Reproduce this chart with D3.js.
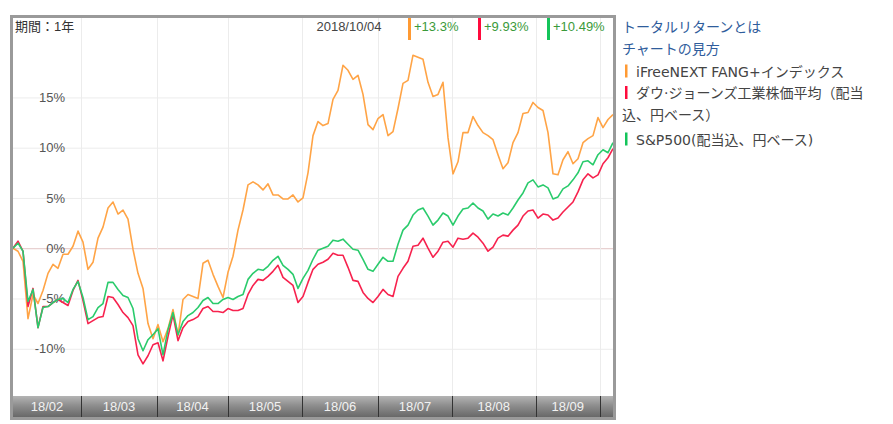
<!DOCTYPE html>
<html>
<head>
<meta charset="utf-8">
<script src="https://cdn.jsdelivr.net/npm/d3@7"></script>
<style>
    body { margin: 0; background: #fff; }
    svg { font-family: "Liberation Sans", "Noto Sans CJK JP", sans-serif; }
</style>
</head>
<body>
<svg id="chart" width="893" height="424"></svg>
<script>
// 累積リターン(%)、等間隔サンプル
const fang = [
    0, -0.3, -1.3, -7.0, -4.6, -5.5, -4.2, -2.5, -1.6, -2.0,
    -0.6, -0.6, 0.2, 1.7, 0.6, -2.1, -1.4, 1.0, 2.1, 4.0,
    4.6, 3.4, 3.8, 2.9, -0.1, -2.5, -4.0, -7.5, -9.0, -7.6,
    -9.3, -8.0, -6.1, -8.7, -5.1, -4.6, -4.8, -5.0, -1.5, -1.2,
    -2.6, -3.8, -4.9, -2.4, -0.8, 1.8, 3.8, 6.3, 6.6, 6.3,
    5.8, 6.4, 5.3, 5.3, 4.9, 4.9, 5.3, 4.6, 5.0, 7.5,
    11.2, 12.6, 12.2, 12.4, 14.8, 15.7, 18.2, 17.7, 16.8, 17.2,
    15.3, 12.3, 11.8, 12.9, 13.3, 11.2, 11.6, 13.9, 16.4, 16.7,
    19.2, 19.0, 18.8, 16.5, 15.1, 15.3, 16.5, 11.0, 7.4, 8.6,
    11.5, 11.5, 13.1, 12.2, 11.5, 11.2, 10.8, 9.3, 7.9, 8.5,
    10.5, 11.5, 13.4, 13.5, 14.5, 14.0, 13.7, 11.5, 7.4, 7.3,
    8.8, 9.6, 8.4, 8.9, 10.5, 10.9, 11.2, 13.0, 12.0, 12.8,
    13.3
]
const dow = [
    0, 0.7, -0.3, -5.8, -4.0, -7.9, -5.8, -5.8, -5.4, -5.1,
    -5.4, -5.7, -4.2, -3.2, -5.2, -7.5, -7.2, -6.9, -6.8, -4.8,
    -4.9, -5.6, -6.4, -6.9, -7.7, -10.6, -11.5, -10.7, -9.6, -9.4,
    -11.2, -8.8, -6.6, -9.2, -7.9, -7.3, -7.1, -6.8, -6.0, -5.8,
    -6.3, -6.3, -6.4, -6.0, -6.2, -6.2, -6.0, -4.6, -3.7, -3.1,
    -3.2, -2.8, -2.3, -1.7, -2.9, -3.3, -3.7, -5.4, -4.8, -3.4,
    -2.1, -1.6, -1.4, -1.1, -0.5, -0.7, -0.7, -1.9, -3.2, -3.3,
    -4.4, -5.0, -5.4, -4.8, -4.1, -4.6, -4.8, -2.8, -2.0, -1.3,
    0.2, 0.3, 1.0, 0.0, -0.9, -0.3, 0.6, 0.7, 0.1, 1.0,
    0.9, 1.0, 1.5, 1.1, 0.5, -0.3, 0.1, 1.0, 1.3, 1.2,
    1.8, 2.3, 3.2, 3.7, 3.8, 3.0, 3.4, 3.3, 2.8, 3.0,
    3.6, 4.1, 4.6, 5.6, 6.8, 7.4, 7.0, 7.3, 8.4, 9.0,
    9.9
]
const sp500 = [
    0, 0.5, -0.3, -5.3, -4.1, -7.9, -5.9, -5.8, -5.4, -5.1,
    -5.0, -5.4, -4.1, -3.3, -4.9, -7.1, -6.8, -5.9, -5.5, -3.4,
    -3.4, -4.1, -4.7, -4.9, -6.0, -9.0, -10.2, -9.1, -8.6, -8.0,
    -10.6, -8.1, -6.4, -8.6, -7.3, -6.7, -6.4, -5.9, -5.2, -4.9,
    -5.5, -5.5, -5.1, -4.9, -5.1, -4.8, -4.6, -3.1, -2.5, -2.1,
    -2.2, -1.8, -1.2, -0.8, -1.7, -2.1, -2.6, -4.0, -3.0, -2.2,
    -1.1, -0.2, 0.0, 0.2, 0.8, 0.7, 0.9, 0.4, -0.1, -0.2,
    -1.1, -2.1, -2.3, -1.6, -0.9, -1.3, -1.3, 0.4, 1.8, 2.3,
    3.3, 3.8, 4.0, 3.2, 2.3, 2.8, 3.5, 3.2, 2.3, 3.2,
    3.9, 4.0, 4.5, 4.0, 3.7, 2.9, 3.4, 3.2, 3.5, 3.3,
    4.0, 4.8, 5.5, 6.5, 6.8, 6.1, 6.3, 6.0, 4.9, 5.1,
    5.9, 6.2, 6.8, 7.5, 8.6, 8.7, 8.3, 9.3, 9.8, 9.5,
    10.5
]

const monthLabels = ['18/02', '18/03', '18/04', '18/05', '18/06', '18/07', '18/08', '18/09', '']
// 各月の開始位置(サンプル番号)
const monthStarts = [0, 13.6, 28.8, 43, 57.8, 73, 87.8, 104.5, 117.4]
const yTicks = [-10, -5, 0, 5, 10, 15]

const seriesNames = [
    'iFreeNEXT FANG+インデックス',
    'ダウ·ジョーンズ工業株価平均（配当',
    'S&P500(配当込、円ベース)'
]
const lastDate = '2018/10/04'
const lastReturns = ['+13.3%', '+9.93%', '+10.49%']
const lineColors = ['#ffa446', '#f7224e', '#2acb6c']
const barColors = ['#ff9a33', '#ff0a3c', '#14c45a']

const svg = d3.select('#chart')
const plot = { left: 13, right: 613, top: 18, bottom: 396 }

const x = d3.scaleLinear().domain([0, fang.length - 1]).range([plot.left, plot.right])
const y = d3.scaleLinear().domain([-14.7, 22.9]).range([plot.bottom, plot.top])

const defs = svg.append('defs')
defs.append('clipPath').attr('id', 'plot-clip')
    .append('rect')
    .attr('x', plot.left).attr('y', plot.top)
    .attr('width', plot.right - plot.left).attr('height', plot.bottom - plot.top)

const grad = defs.append('linearGradient').attr('id', 'axis-grad')
    .attr('x1', 0).attr('y1', 0).attr('x2', 0).attr('y2', 1)
grad.append('stop').attr('offset', '0%').attr('stop-color', '#b4b4b4')
grad.append('stop').attr('offset', '45%').attr('stop-color', '#8e8e8e')
grad.append('stop').attr('offset', '100%').attr('stop-color', '#686868')

// グリッド
svg.append('g')
    .selectAll('line')
    .data(yTicks)
    .join('line')
    .attr('x1', plot.left).attr('x2', plot.right)
    .attr('y1', d => y(d) + 0.5).attr('y2', d => y(d) + 0.5)
    .attr('stroke', d => d === 0 ? '#e2c6c6' : '#ececec')
    .attr('stroke-width', 1)

svg.append('g')
    .selectAll('line')
    .data(monthStarts.slice(1))
    .join('line')
    .attr('x1', d => Math.round(x(d)) + 0.5).attr('x2', d => Math.round(x(d)) + 0.5)
    .attr('y1', plot.top).attr('y2', plot.bottom)
    .attr('stroke', '#ececec')

// 目盛りラベル
svg.append('g')
    .selectAll('text')
    .data(yTicks)
    .join('text')
    .attr('x', 65)
    .attr('y', d => y(d))
    .attr('dy', '0.35em')
    .attr('text-anchor', 'end')
    .attr('font-size', 13)
    .attr('fill', '#555')
    .text(d => d + '%')

// 折れ線
const line = d3.line().x((d, i) => x(i)).y(d => y(d))
svg.append('g')
    .attr('clip-path', 'url(#plot-clip)')
    .selectAll('path')
    .data([fang, dow, sp500])
    .join('path')
    .attr('d', line)
    .attr('fill', 'none')
    .attr('stroke', (d, i) => lineColors[i])
    .attr('stroke-width', 1.6)
    .attr('stroke-linejoin', 'round')

// 横軸バー
const axisTop = plot.bottom
const axisBottom = 417
svg.append('rect')
    .attr('x', plot.left).attr('y', axisTop)
    .attr('width', plot.right - plot.left).attr('height', axisBottom - axisTop)
    .attr('fill', 'url(#axis-grad)')

svg.append('g')
    .selectAll('line')
    .data(monthStarts.slice(1))
    .join('line')
    .attr('x1', d => Math.round(x(d)) + 0.5).attr('x2', d => Math.round(x(d)) + 0.5)
    .attr('y1', axisTop).attr('y2', axisBottom)
    .attr('stroke', '#333')

svg.append('g')
    .selectAll('text')
    .data(monthLabels.slice(0, -1))
    .join('text')
    .attr('x', (d, i) => (x(monthStarts[i]) + x(monthStarts[i + 1])) / 2)
    .attr('y', 411)
    .attr('text-anchor', 'middle')
    .attr('font-size', 13)
    .attr('fill', '#f2f2f2')
    .text(d => d)

// 枠
svg.append('rect')
    .attr('x', 11.5).attr('y', 16.5)
    .attr('width', 603).attr('height', 402)
    .attr('fill', 'none')
    .attr('stroke', '#9a9a9a')
    .attr('stroke-width', 3)

// 上部テキスト
svg.append('text')
    .attr('x', 15).attr('y', 31)
    .attr('font-size', 13).attr('fill', '#333')
    .text('期間：1年')

svg.append('text')
    .attr('x', 349).attr('y', 31)
    .attr('text-anchor', 'middle')
    .attr('font-size', 13).attr('fill', '#444')
    .text(lastDate)

const valueX = [408, 478, 547]
const head = svg.append('g')
    .selectAll('g')
    .data(lastReturns)
    .join('g')
    .attr('transform', (d, i) => `translate(${valueX[i]},0)`)
head.append('rect')
    .attr('x', 0).attr('y', 18).attr('width', 3).attr('height', 22)
    .attr('fill', (d, i) => barColors[i])
head.append('text')
    .attr('x', 6).attr('y', 31)
    .attr('font-size', 13).attr('fill', '#3a9a3a')
    .text(d => d)

// 右側の凡例
const side = svg.append('g')
    .attr('font-family', '"DejaVu Sans", "Noto Sans CJK JP", sans-serif')
    .attr('font-size', 14)
side.append('text').attr('x', 622).attr('y', 32).attr('fill', '#2f5d9c').text('トータルリターンとは')
side.append('text').attr('x', 622).attr('y', 53.5).attr('fill', '#2f5d9c').text('チャートの見方')

const legendY = [76.5, 98, 144.5]
const legend = side.selectAll('g.item')
    .data(seriesNames)
    .join('g')
    .attr('class', 'item')
legend.append('rect')
    .attr('x', 625).attr('y', (d, i) => legendY[i] - 12)
    .attr('width', 2.5).attr('height', 13)
    .attr('fill', (d, i) => barColors[i])
legend.append('text')
    .attr('x', 636).attr('y', (d, i) => legendY[i])
    .attr('fill', '#444')
    .text(d => d)
side.append('text').attr('x', 622).attr('y', 119.5).attr('fill', '#444').text('込、円ベース）')
</script>
</body>
</html>
